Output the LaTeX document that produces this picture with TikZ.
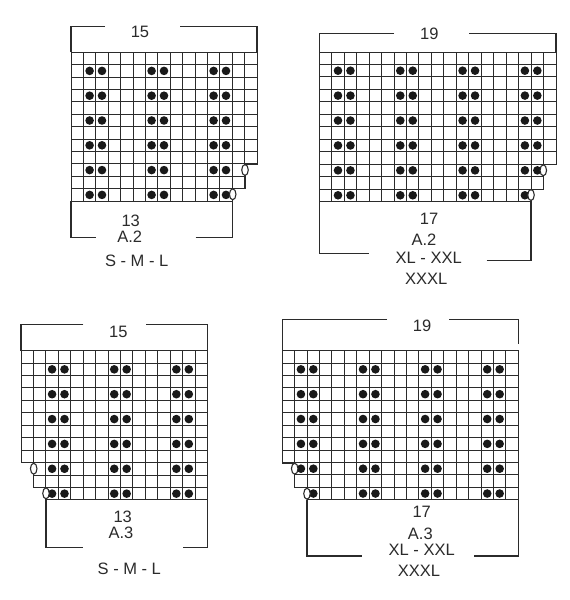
\documentclass[tikz,border=0pt]{standalone}
\usepackage{fontspec}
\usetikzlibrary{shapes.geometric}
\setmainfont{Liberation Sans}
\definecolor{ink}{HTML}{2B2B2B}
\tikzset{
  gridline/.style={draw=ink,line width=1pt},
  bracket/.style={draw=ink,line width=1.25pt,line cap=butt,line join=miter},
  stitch/.style={fill=black!90,draw=none},
  yarnover/.style={ellipse,draw=ink,fill=white,line width=1.1pt,inner sep=0pt,minimum width=6.5pt,minimum height=11pt},
  lbl/.style={inner sep=0pt,text=ink,font=\fontsize{16.5}{18}\selectfont,anchor=center}
}
% #1 left, #2 top, #3 cell, #4 columns, #5 outline polygon, #6 dot columns, #7 column without a dot in the last row
\newcommand{\knitgrid}[7]{%
  \begin{scope}
    \clip #5;
    \foreach \i in {0,...,#4} \draw[gridline] ({#1+\i*#3},#2) -- ({#1+\i*#3},{#2+12*#3});
    \foreach \j in {0,...,12} \draw[gridline] (#1,{#2+\j*#3}) -- ({#1+#4*#3},{#2+\j*#3});
  \end{scope}
  \draw[gridline] #5;
  \foreach \j in {1,3,...,11} \foreach \i in {#6} {
    \pgfmathtruncatemacro{\skipdot}{(\j==11 && \i==#7) ? 1 : 0}
    \ifnum\skipdot=0
      \fill[stitch] ({#1+(\i+0.5)*#3},{#2+(\j+0.5)*#3}) circle (4.3);
    \fi
  }
}
\begin{document}
\begin{tikzpicture}[x=1pt,y=-1pt]
\useasboundingbox[fill=white] (0,0) rectangle (570,600);

% Panel 1
\knitgrid{71}{52.3}{12.4}{15}{(71,52.3) -- (257,52.3) -- (257,164) -- (245,164) -- (245,188.7) -- (232.7,188.7) -- (232.7,201) -- (71,201) -- cycle}{1,2,6,7,11,12}{-1}
\node[yarnover] (a1) at (245,170) {};
\node[yarnover] (a2) at (232.7,194.3) {};
\node[lbl] (a15) at (140,32) {15};
\node[lbl] (a13) at (130.7,220.7) {13};
\node[lbl] (aA) at (129.7,237) {A.2};
\node[lbl] (aS) at (136.7,261) {S - M - L};
\draw[bracket] (105,26.7) -- (71,26.7) -- (71,52.3);
\draw[bracket] (180,26.7) -- (257,26.7) -- (257,52.3);
\draw[bracket] (71,201) -- (71,237.7) -- (95.7,237.7);
\draw[bracket] (195.7,237.7) -- (232.7,237.7) -- (a2.south);

% Panel 2
\knitgrid{319.3}{52}{12.46}{19}{(319.3,52) -- (556,52) -- (556,164) -- (543.3,164) -- (543.3,189.3) -- (531,189.3) -- (531,201.6) -- (319.3,201.6) -- cycle}{1,2,6,7,11,12,16,17}{17}
\node[yarnover] (b1) at (543.3,170.3) {};
\node[yarnover] (b2) at (531,195) {};
\node[lbl] (b19) at (429.3,34) {19};
\node[lbl] (b17) at (429,219) {17};
\node[lbl] (bA) at (424,240) {A.2};
\node[lbl] (bX) at (428.7,257.7) {XL - XXL};
\node[lbl] (bXX) at (426.3,278.7) {XXXL};
\draw[bracket] (394,33.3) -- (319.3,33.3) -- (319.3,52);
\draw[bracket] (469,33.3) -- (556,33.3) -- (556,52);
\draw[bracket] (319.3,201.6) -- (319.3,253.7) -- (369.3,253.7);
\draw[bracket] (486.7,260.3) -- (531,260.3) -- (b2.south);

% Panel 3
\knitgrid{21}{350.7}{12.43}{15}{(21,350.7) -- (207.5,350.7) -- (207.5,499.9) -- (46,499.9) -- (46,487.7) -- (33.7,487.7) -- (33.7,462.9) -- (21,462.9) -- cycle}{2,3,7,8,12,13}{-1}
\node[yarnover] (c1) at (33.7,468.7) {};
\node[yarnover] (c2) at (46,493.3) {};
\node[lbl] (c15) at (118.3,332) {15};
\node[lbl] (c13) at (122.7,516.7) {13};
\node[lbl] (cA) at (121,533.3) {A.3};
\node[lbl] (cS) at (129.3,569) {S - M - L};
\draw[bracket] (83.3,324.7) -- (21,324.7) -- (21,350.7);
\draw[bracket] (146,324.7) -- (207.3,324.7) -- (207.3,350.7);
\draw[bracket] (c2.south) -- (46,547.3) -- (83.3,547.3);
\draw[bracket] (183.3,547.3) -- (207.3,547.3) -- (207.3,500);

% Panel 4
\knitgrid{282.3}{350.7}{12.42}{19}{(282.3,350.7) -- (518.3,350.7) -- (518.3,499.7) -- (307,499.7) -- (307,487.6) -- (294.7,487.6) -- (294.7,463) -- (282.3,463) -- cycle}{1,2,6,7,11,12,16,17}{1}
\node[yarnover] (d1) at (294.7,468.7) {};
\node[yarnover] (d2) at (307,493.7) {};
\node[lbl] (d19) at (422,326.3) {19};
\node[lbl] (d17) at (421.7,512.3) {17};
\node[lbl] (dA) at (420.3,533.7) {A.3};
\node[lbl] (dX) at (421.7,549.7) {XL - XXL};
\node[lbl] (dXX) at (419,570.7) {XXXL};
\draw[bracket] (387,319.3) -- (282.3,319.3) -- (282.3,350.7);
\draw[bracket] (449.3,319.3) -- (518.3,319.3) -- (518.3,344.3);
\draw[bracket] (d2.south) -- (307,556) -- (362.3,556);
\draw[bracket] (474.3,556) -- (518.3,556) -- (518.3,500);
\end{tikzpicture}
\end{document}
